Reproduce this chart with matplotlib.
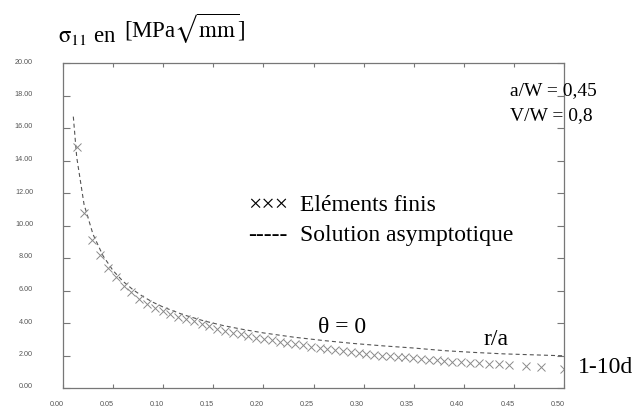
import matplotlib
matplotlib.use('Agg')
import matplotlib.pyplot as plt
import matplotlib.transforms as mtransforms

# Finite element results (r/a, sigma11)
fe_x = [0.0137, 0.0210, 0.0293, 0.0371, 0.0449, 0.0527, 0.0605, 0.0683, 0.0761, 0.0839,
        0.0917, 0.0995, 0.1070, 0.1150, 0.1230, 0.1310, 0.1390, 0.1460, 0.1540, 0.1620,
        0.1700, 0.1780, 0.1850, 0.1930, 0.2010, 0.2090, 0.2170, 0.2240, 0.2320, 0.2400,
        0.2480, 0.2560, 0.2630, 0.2710, 0.2790, 0.2870, 0.2950, 0.3020, 0.3100, 0.3180,
        0.3260, 0.3340, 0.3410, 0.3490, 0.3570, 0.3650, 0.3730, 0.3800, 0.3880, 0.3970,
        0.4060, 0.4150, 0.4250, 0.4350, 0.4450, 0.4620, 0.4770, 0.5000]
fe_y = [14.85, 10.80, 9.10, 8.20, 7.40, 6.85, 6.30, 5.90, 5.50, 5.20,
        4.95, 4.75, 4.55, 4.40, 4.25, 4.10, 3.95, 3.80, 3.65, 3.50,
        3.40, 3.30, 3.20, 3.10, 3.00, 2.93, 2.85, 2.77, 2.70, 2.62,
        2.55, 2.48, 2.42, 2.35, 2.28, 2.20, 2.15, 2.10, 2.05, 2.00,
        1.97, 1.93, 1.88, 1.83, 1.78, 1.74, 1.70, 1.66, 1.62, 1.58,
        1.55, 1.52, 1.48, 1.45, 1.42, 1.35, 1.30, 1.15]

# Asymptotic solution
asym_x = [0.0103, 0.0137, 0.021, 0.030, 0.040, 0.050, 0.060, 0.070, 0.080, 0.090,
          0.100, 0.120, 0.140, 0.160, 0.180, 0.200, 0.230, 0.260, 0.290, 0.320,
          0.350, 0.380, 0.410, 0.440, 0.470, 0.500]
asym_y = [16.70, 14.20, 11.30, 9.45, 8.13, 7.22, 6.56, 6.04, 5.62, 5.27,
          4.98, 4.51, 4.14, 3.84, 3.60, 3.39, 3.13, 2.92, 2.74, 2.59,
          2.46, 2.30, 2.19, 2.10, 2.04, 1.98]

x_ticks = [0.00, 0.05, 0.10, 0.15, 0.20, 0.25, 0.30, 0.35, 0.40, 0.45, 0.50]
y_ticks = [0, 2, 4, 6, 8, 10, 12, 14, 16, 18, 20]

plt.rcParams['lines.scale_dashes'] = False
plt.rcParams['mathtext.fontset'] = 'stix'

W, H = 634, 409
fig = plt.figure(figsize=(W / 100, H / 100), dpi=100)
ax = fig.add_axes([63 / W, 1 - 388 / H, 501 / W, 325 / H])
ax.set_xlim(0, 0.5)
ax.set_ylim(0, 20)

ax.plot(asym_x, asym_y, ls=(0, (2.9, 2.2)), color='#555555', lw=0.8)
ax.plot(fe_x, fe_y, ls='none', marker='x', ms=5.5, mew=0.7, color='#8a8a8a')

for s in ax.spines.values():
    s.set_color('#777777')
    s.set_linewidth(0.9)

ax.set_xticks(x_ticks)
ax.set_xticklabels(['%.2f' % v for v in x_ticks])
ax.set_yticks(y_ticks)
ax.set_yticklabels(['%.2f' % v for v in y_ticks])
ax.tick_params(axis='y', direction='in', length=5, width=0.8, color='#777777',
               left=True, right=True, pad=21.5, labelsize=5.2, labelcolor='#555555')
ax.tick_params(axis='x', direction='in', length=3, width=0.8, color='#777777',
               bottom=True, top=True, pad=9, labelsize=5.2, labelcolor='#555555')
for lab in ax.get_yticklabels():
    lab.set_fontfamily('Liberation Sans')
    lab.set_transform(lab.get_transform() + mtransforms.ScaledTranslation(0, 2 / 100, fig.dpi_scale_trans))
for lab in ax.get_xticklabels():
    lab.set_fontfamily('Liberation Sans')
    lab.set_transform(lab.get_transform() + mtransforms.ScaledTranslation(-6.5 / 100, 0, fig.dpi_scale_trans))

serif = 'Liberation Serif'

def ftext(x, y, s, size, **kw):
    fig.text(x / W, 1 - y / H, s, fontsize=size, family=serif, va='baseline', ha='left', **kw)

ftext(58, 42, r'$\mathrm{\sigma}_{11}$ en', 16.5)
ftext(124, 38, r'[MPa$\sqrt{\mathrm{mm}}$]', 16.5)
ftext(510, 95, 'a/W = 0,45', 14)
ftext(510, 120, 'V/W = 0,8', 14)
ftext(248, 211, '\u00d7\u00d7\u00d7', 17)
ftext(300, 211, 'Eléments finis', 17)
ftext(248, 241, '-----', 17)
ftext(300, 241, 'Solution asymptotique', 17)
ftext(318, 333, '\u03b8 = 0', 17)
ftext(483, 345, 'r/a', 17)
ftext(578, 373, '1-10d', 17)

fig.savefig('out.png', dpi=100)
